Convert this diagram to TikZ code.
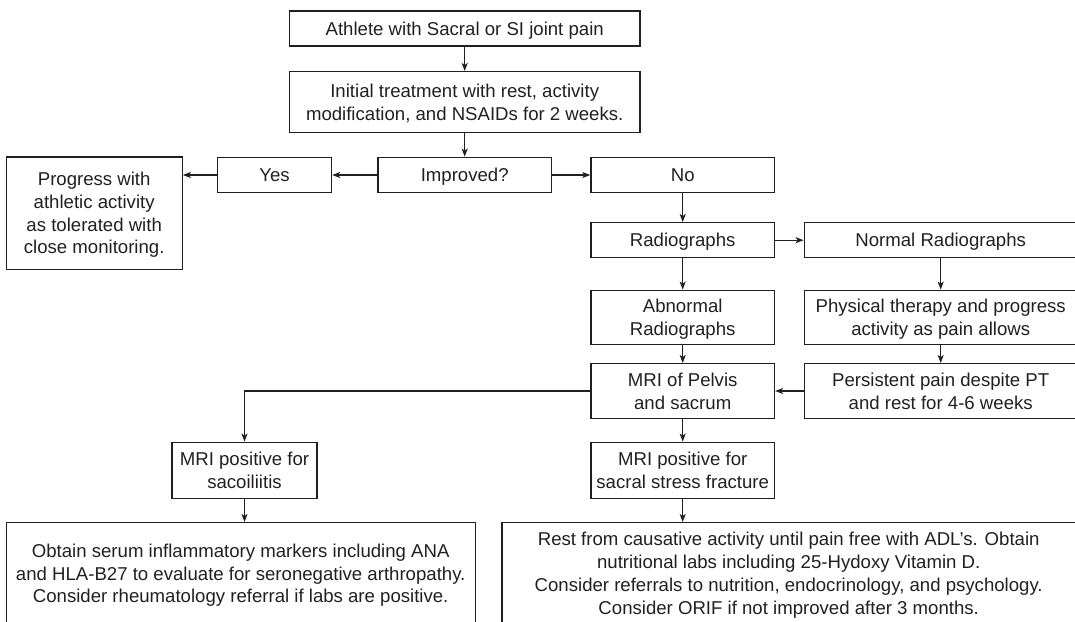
\documentclass[tikz,border=0pt]{standalone}
\usepackage{fontspec}
\setmainfont{Liberation Sans}
\usetikzlibrary{arrows.meta}

\definecolor{ink}{RGB}{35,31,32}

\tikzset{
  box/.style={draw=ink, line width=1.4pt, text=ink, align=center, inner sep=0pt,
    text depth=0pt, font=\fontsize{18.6}{22.7}\selectfont},
  flow/.style={draw=ink, line width=1.3pt, -{Stealth[length=8pt, width=6pt, inset=2pt]}}
}

\begin{document}
\begin{tikzpicture}[x=1pt, y=-1pt]
  \clip (0,0) rectangle (1075,621);

  % Main column
  \node[box, minimum width=350.7, minimum height=35] (pain) at (464.7,28.5)
    {Athlete with Sacral or SI joint pain};
  \node[box, minimum width=350.7, minimum height=61] (initial) at (464.7,102.2)
    {Initial treatment with rest, activity\\modification, and NSAIDs for 2 weeks.};
  \node[box, minimum width=173.7, minimum height=35.4] (improved) at (464.7,175)
    {Improved?};

  % Yes branch
  \node[box, minimum width=113.8, minimum height=35.4] (yes) at (274.6,175) {Yes};
  \node[box, minimum width=176, minimum height=112.3] (progress) at (94.2,213.2)
    {Progress with\\athletic activity\\as tolerated with\\close monitoring.};

  % No branch
  \node[box, minimum width=183.4, minimum height=35] (no) at (682.7,175) {No};
  \node[box, minimum width=183.4, minimum height=35] (radio) at (682.7,240.2) {Radiographs};
  \node[box, minimum width=183.4, minimum height=54] (abnormal) at (682.7,317.3)
    {Abnormal\\Radiographs};
  \node[box, minimum width=183.4, minimum height=54.6] (pelvis) at (682.7,391)
    {MRI of Pelvis\\and sacrum};
  \node[box, minimum width=183.4, minimum height=56] (sacral) at (682.7,470.3)
    {MRI positive for\\sacral stress fracture};

  % Normal radiographs column
  \node[box, minimum width=272.8, minimum height=35] (normal) at (940.7,240.2)
    {Normal Radiographs};
  \node[box, minimum width=272.8, minimum height=54] (therapy) at (940.7,317.3)
    {Physical therapy and progress\\activity as pain allows};
  \node[box, minimum width=272.8, minimum height=54.6] (persist) at (940.7,391)
    {Persistent pain despite PT\\and rest for 4-6 weeks};

  % Sacroiliitis side
  \node[box, minimum width=145.3, minimum height=56] (sacoil) at (244.5,470.3)
    {MRI positive for\\sacoiliitis};

  % Final recommendations
  \node[box, minimum width=469, minimum height=101.3] (labs) at (240.7,573.3)
    {Obtain serum inflammatory markers including ANA\\
     and HLA-B27 to evaluate for seronegative arthropathy.\\
     Consider rheumatology referral if labs are positive.};
  \node[box, minimum width=573.8, minimum height=101.3] (rest) at (788.7,573.3)
    {Rest from causative activity until pain free with ADL’s. Obtain\\
     nutritional labs including 25-Hydoxy Vitamin D.\\
     Consider referrals to nutrition, endocrinology, and psychology.\\
     Consider ORIF if not improved after 3 months.};

  % Connectors
  \draw[flow] (pain) -- (initial);
  \draw[flow] (initial) -- (improved);
  \draw[flow] (improved) -- (yes);
  \draw[flow] (yes.west) -- (yes.west -| progress.east);
  \draw[flow] (improved) -- (no);
  \draw[flow] (no) -- (radio);
  \draw[flow] (radio) -- (normal);
  \draw[flow] (radio) -- (abnormal);
  \draw[flow] (abnormal) -- (pelvis);
  \draw[flow] (normal) -- (therapy);
  \draw[flow] (therapy) -- (persist);
  \draw[flow] (persist) -- (pelvis);
  \draw[flow] (pelvis) -- (sacral);
  \draw[flow] (pelvis.west) -| (sacoil.north);
  \draw[flow] (sacoil.south) -- (sacoil.south |- labs.north);
  \draw[flow] (sacral.south) -- (sacral.south |- rest.north);
\end{tikzpicture}
\end{document}
